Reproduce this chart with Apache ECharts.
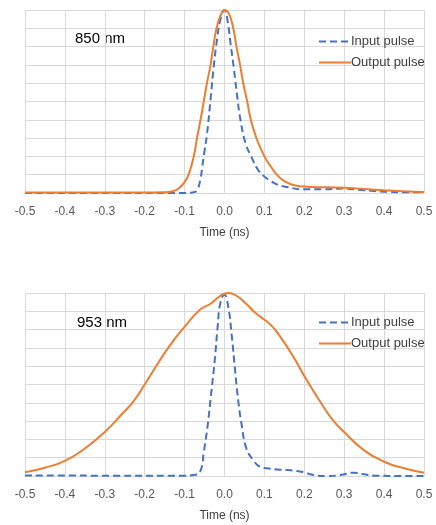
<!DOCTYPE html>
<html>
<head>
<meta charset="utf-8">
<script src="https://cdn.jsdelivr.net/npm/echarts@6/dist/echarts.min.js"></script>
<style>
html, body { margin: 0; padding: 0; background: #fff; }
#chart { width: 436px; height: 525px; }
</style>
</head>
<body>
<div id="chart"></div>
<script>
// x tick labels
const xTicks = [-0.5, -0.4, -0.3, -0.2, -0.1, 0, 0.1, 0.2, 0.3, 0.4, 0.5];

// 850 nm - input pulse
const tIn850 = [-0.5, -0.3, -0.1, -0.08, -0.069, -0.06, -0.056, -0.05, -0.044, -0.035, -0.027, -0.018, -0.01, 0, 0.007, 0.015, 0.024, 0.032, 0.04, 0.053, 0.067, 0.083, 0.1, 0.117, 0.133, 0.15, 0.2, 0.25, 0.3, 0.35, 0.4, 0.45, 0.5];
const vIn850 = [0, 0, 0, 0.003, 0.015, 0.08, 0.14, 0.23, 0.32, 0.51, 0.69, 0.85, 0.95, 1.0, 0.95, 0.82, 0.67, 0.525, 0.40, 0.27, 0.2, 0.13, 0.09, 0.064, 0.045, 0.036, 0.02, 0.02, 0.024, 0.015, 0.007, 0.004, 0.004];
// 850 nm - output pulse
const tOut850 = [-0.5, -0.3, -0.2, -0.15, -0.13, -0.115, -0.1, -0.09, -0.077, -0.069, -0.06, -0.052, -0.044, -0.035, -0.028, -0.02, -0.01, 0, 0.011, 0.022, 0.03, 0.039, 0.047, 0.057, 0.066, 0.08, 0.1, 0.117, 0.133, 0.15, 0.175, 0.2, 0.25, 0.3, 0.35, 0.4, 0.45, 0.5];
const vOut850 = [0.003, 0.003, 0.003, 0.004, 0.01, 0.025, 0.06, 0.1, 0.2, 0.3, 0.4, 0.5, 0.6, 0.7, 0.8, 0.9, 0.97, 1.0, 0.98, 0.9, 0.8, 0.7, 0.6, 0.5, 0.4, 0.3, 0.2, 0.142, 0.096, 0.065, 0.042, 0.035, 0.031, 0.029, 0.022, 0.015, 0.009, 0.005];

// 953 nm - input pulse
const tIn953 = [-0.5, -0.3, -0.1, -0.077, -0.06, -0.052, -0.042, -0.034, -0.025, -0.017, -0.01, 0, 0.009, 0.018, 0.026, 0.034, 0.043, 0.055, 0.072, 0.089, 0.106, 0.131, 0.156, 0.182, 0.2, 0.224, 0.257, 0.29, 0.324, 0.35, 0.376, 0.45, 0.5];
const vIn953 = [0.003, 0.002, 0.002, 0.005, 0.03, 0.13, 0.28, 0.44, 0.62, 0.82, 0.95, 0.99, 0.93, 0.77, 0.59, 0.42, 0.28, 0.15, 0.087, 0.05, 0.042, 0.036, 0.033, 0.027, 0.02, 0.005, 0, 0.005, 0.018, 0.009, 0.002, 0, 0];
// 953 nm - output pulse
const tOut953 = [-0.5, -0.45, -0.4, -0.35, -0.3, -0.258, -0.229, -0.2, -0.167, -0.133, -0.1, -0.061, -0.036, -0.01, 0.009, 0.03, 0.055, 0.08, 0.114, 0.14, 0.173, 0.206, 0.24, 0.27, 0.3, 0.35, 0.4, 0.45, 0.5];
const vOut953 = [0.02, 0.045, 0.083, 0.15, 0.24, 0.336, 0.405, 0.5, 0.615, 0.725, 0.815, 0.91, 0.94, 0.985, 1.0, 0.985, 0.94, 0.886, 0.83, 0.76, 0.65, 0.524, 0.406, 0.31, 0.24, 0.14, 0.078, 0.042, 0.018];

const pairs = (t, v) => t.map((x, i) => [x, v[i]]);

const FONT = 'Liberation Sans';
const BLUE = '#4472C4';
const ORANGE = '#ED7D31';
const GRID = '#d9d9d9';

let xAxisFor = (idx) => ({
	type: 'value',
	gridIndex: idx,
	min: -0.5,
	max: 0.5,
	interval: 0.1,
	name: 'Time (ns)',
	nameLocation: 'middle',
	nameGap: 34,
	nameTextStyle: { color: '#404040', fontSize: 12, fontFamily: FONT },
	axisLine: { show: true, lineStyle: { color: GRID } },
	axisTick: { show: false },
	axisLabel: {
		color: '#595959', fontSize: 12, fontFamily: FONT, margin: 13,
		formatter: (v) => xTicks.indexOf(Math.round(v * 10) / 10) >= 0 ? (Math.round(v * 10) / 10).toFixed(1) : ''
	},
	splitLine: { show: true, lineStyle: { color: GRID, width: 1 } }
});

let yAxisFor = (idx) => ({
	type: 'value',
	gridIndex: idx,
	min: 0,
	max: 1,
	interval: 0.1,
	axisLine: { show: false },
	axisTick: { show: false },
	axisLabel: { show: false },
	splitLine: { show: true, lineStyle: { color: GRID, width: 1 } }
});

let lineSeries = (name, idx, data, color, dashed) => ({
	name: name,
	type: 'line',
	xAxisIndex: idx,
	yAxisIndex: idx,
	data: data,
	symbol: 'none',
	smooth: 0.5,
	clip: true,
	lineStyle: { color: color, width: 2, type: dashed ? [7, 4] : 'solid' },
	itemStyle: { color: color }
});

let legendFor = (top) => ({
	orient: 'vertical',
	left: 313,
	top: top,
	itemWidth: 32,
	itemHeight: 14,
	itemGap: 8,
	itemStyle: { opacity: 0 },
	textStyle: { color: '#404040', fontSize: 13, fontFamily: FONT, padding: [0, 0, 0, -5] },
	data: ['Input pulse', 'Output pulse']
});

let chart = echarts.init(document.getElementById('chart'), null, { renderer: 'canvas' });
chart.setOption({
	animation: false,
	backgroundColor: '#fff',
	grid: [
		{ left: 25, right: 12, top: 10, height: 183 },
		{ left: 25, right: 12, top: 293, height: 183 }
	],
	xAxis: [xAxisFor(0), xAxisFor(1)],
	yAxis: [yAxisFor(0), yAxisFor(1)],
	legend: [legendFor(30), legendFor(311)],
	graphic: [
		{ type: 'text', left: 75, top: 31, style: { text: '850 nm', fontSize: 15, fontFamily: FONT, fill: '#000' } },
		{ type: 'text', left: 77, top: 315, style: { text: '953 nm', fontSize: 15, fontFamily: FONT, fill: '#000' } }
	],
	series: [
		lineSeries('Input pulse', 0, pairs(tIn850, vIn850), BLUE, true),
		lineSeries('Output pulse', 0, pairs(tOut850, vOut850), ORANGE, false),
		lineSeries('Input pulse', 1, pairs(tIn953, vIn953), BLUE, true),
		lineSeries('Output pulse', 1, pairs(tOut953, vOut953), ORANGE, false)
	]
});
</script>
</body>
</html>
